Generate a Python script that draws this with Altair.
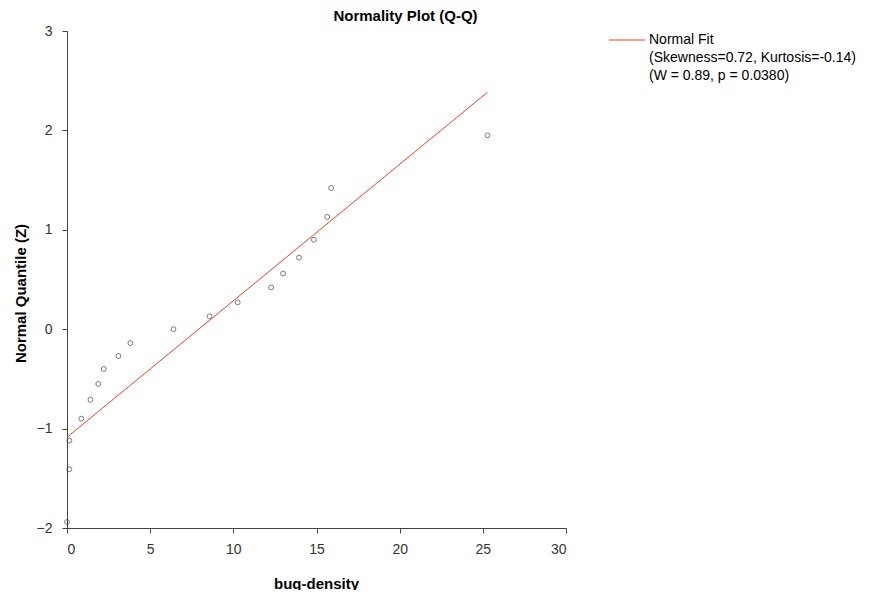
import altair as alt
import pandas as pd

# Data
bug_density = [0.0, 0.14, 0.14, 0.86, 1.41, 1.88, 2.21, 3.09, 3.81, 6.40, 8.57,
               10.26, 12.27, 12.99, 13.95, 14.84, 15.64, 15.88, 25.28]
normal_z = [-1.94, -1.41, -1.12, -0.90, -0.71, -0.55, -0.40, -0.27, -0.14, 0.00,
            0.13, 0.27, 0.42, 0.56, 0.72, 0.90, 1.13, 1.42, 1.95]
fit_x = [0.0, 25.28]
fit_z = [-1.087, 2.384]
x_ticks = [0, 5, 10, 15, 20, 25, 30]
y_ticks = [-2, -1, 0, 1, 2, 3]
legend_lines = ["Normal Fit", "(Skewness=0.72, Kurtosis=-0.14)", "(W = 0.89, p = 0.0380)"]

FONT = "Liberation Sans"
RED = "#ff3b1f"

pts = pd.DataFrame({"x": bug_density, "z": normal_z})
fit = pd.DataFrame({"x": fit_x, "z": fit_z})

xscale = alt.Scale(domain=[0, 30], nice=False, zero=False)
yscale = alt.Scale(domain=[-2, 3], nice=False, zero=False)

xaxis = alt.Axis(values=x_ticks, grid=False, title="bug-density", titleX=249, titleY=55,
                 titleBaseline="middle", titleAlign="center", labelPadding=9)
yaxis = alt.Axis(values=y_ticks, grid=False, title="Normal Quantile (Z)", titleX=-47,
                 titleY=262, titleAngle=270, titleAlign="center", titleBaseline="middle",
                 labelPadding=10)

line = alt.Chart(fit).mark_line(color=RED, strokeWidth=1).encode(
    x=alt.X("x:Q", scale=xscale, axis=xaxis),
    y=alt.Y("z:Q", scale=yscale, axis=yaxis),
)

points = alt.Chart(pts).mark_point(shape="circle", size=24, filled=False,
                                   color="#444444", strokeWidth=1).encode(
    x=alt.X("x:Q", scale=xscale, axis=xaxis),
    y=alt.Y("z:Q", scale=yscale, axis=yaxis),
)

one = pd.DataFrame({"a": [0]})
legend_sym = alt.Chart(one).mark_rule(color=RED, strokeWidth=1).encode(
    x=alt.value(542), x2=alt.value(578), y=alt.value(9)
)

legend_layers = []
for i, t in enumerate(legend_lines):
    legend_layers.append(
        alt.Chart(one).mark_text(align="left", baseline="middle", font=FONT,
                                 fontSize=14, color="#000000").encode(
            x=alt.value(582), y=alt.value(9 + 18 * i), text=alt.value(t)
        )
    )

chart = alt.layer(line, points, legend_sym, *legend_layers).properties(
    width=499, height=497,
    padding={"left": 59, "top": 23, "right": 298, "bottom": 62},
    autosize=alt.AutoSizeParams(type="none"),
    title=alt.TitleParams("Normality Plot (Q-Q)", font=FONT, fontSize=15, fontWeight="bold",
                          anchor="middle", frame="group", dx=89, dy=6, offset=6, color="#000000"),
).configure_view(stroke=None).configure_axis(
    labelFont=FONT, labelFontSize=14, labelColor="#333333",
    titleFont=FONT, titleFontSize=15, titleFontWeight="bold", titleColor="#000000",
    domainColor="#444444", tickColor="#444444", tickSize=5, domainWidth=1,
)

chart.save("out.html", embed_options={"renderer": "svg", "actions": False})
